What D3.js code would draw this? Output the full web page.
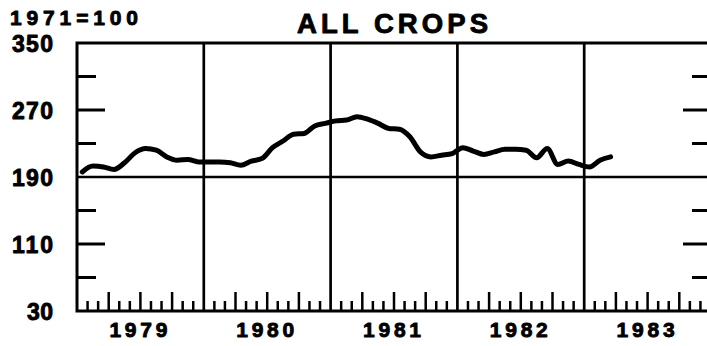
<!DOCTYPE html>
<html>
<head>
<meta charset="utf-8">
<script src="https://cdn.jsdelivr.net/npm/d3@7"></script>
<style>
  html, body { margin: 0; padding: 0; background: #fff; }
  svg { display: block; }
  text { font-family: "Liberation Sans", Arial, sans-serif; font-weight: bold; fill: #000;
         stroke: #000; stroke-width: 0.9; stroke-linejoin: round; }
</style>
</head>
<body>
<svg id="chart" width="707" height="346"></svg>
<script>
// Monthly price index for all crops, Jan 1979 – Mar 1983 (1971 = 100)
const years = ["1979", "1980", "1981", "1982", "1983"];
const cropIndex = [
  196, 203, 202, 199, 207, 219, 224, 222, 214, 210, 211, 208,   // 1979
  208, 208, 207, 204, 209, 212, 225, 233, 241, 242, 251, 254,   // 1980
  257, 258, 262, 259, 254, 248, 247, 238, 220, 214, 216, 218,   // 1981
  225, 221, 217, 220, 223, 223, 222, 213, 224, 205, 209, 205,   // 1982
  202, 210, 214                                                 // 1983
];
const yTickLabels = [350, 270, 190, 110, 30];
const yLongTicks = [270, 110];
const yShortTicks = [310, 230, 150, 70];
const titleText = "ALL CROPS";
const unitText = "1971=100";

const svg = d3.select("#chart");
const plotLeft = 77, plotRight = 711, plotTop = 43, plotBottom = 311;
const monthsShown = years.length * 12;

const x = d3.scaleLinear().domain([0, monthsShown]).range([plotLeft, plotRight]);
const y = d3.scaleLinear().domain([30, 350]).range([plotBottom, plotTop]);

const ink = "#000";
const g = svg.append("g");

// frame
g.append("path")
  .attr("d", `M${x(monthsShown)},${y(30)} L${x(0)},${y(30)} L${x(0)},${y(350)} L${x(monthsShown)},${y(350)} Z`)
  .attr("fill", "none").attr("stroke", ink).attr("stroke-width", 3);

// year dividers
const dividers = d3.range(12, monthsShown, 12);
g.selectAll("line.div").data(dividers).join("line")
  .attr("x1", d => x(d)).attr("x2", d => x(d))
  .attr("y1", y(350)).attr("y2", y(30))
  .attr("stroke", ink).attr("stroke-width", 2.7);

// reference line at 190
g.append("line")
  .attr("x1", x(0)).attr("x2", x(monthsShown))
  .attr("y1", y(190)).attr("y2", y(190))
  .attr("stroke", ink).attr("stroke-width", 2.7);

// left and right value ticks
const tickSpec = yLongTicks.map(v => ({ v, len: 28 }))
  .concat(yShortTicks.map(v => ({ v, len: 19 })));
g.selectAll("line.lt").data(tickSpec).join("line")
  .attr("x1", x(0)).attr("x2", d => x(0) + d.len)
  .attr("y1", d => y(d.v)).attr("y2", d => y(d.v))
  .attr("stroke", ink).attr("stroke-width", 3);
g.selectAll("line.rt").data(tickSpec).join("line")
  .attr("x1", x(monthsShown)).attr("x2", d => x(monthsShown) - d.len)
  .attr("y1", d => y(d.v)).attr("y2", d => y(d.v))
  .attr("stroke", ink).attr("stroke-width", 3);

// month ticks along the bottom (taller at quarters)
const monthTicks = d3.range(1, monthsShown).filter(m => m % 12 !== 0);
g.selectAll("line.mt").data(monthTicks).join("line")
  .attr("x1", d => x(d)).attr("x2", d => x(d))
  .attr("y1", y(30)).attr("y2", d => y(30) - (d % 3 === 0 ? 19 : 10))
  .attr("stroke", ink).attr("stroke-width", 2.5);

// index line, plotted at mid-month
const line = d3.line()
  .x((d, i) => x(i + 0.5))
  .y(d => y(d))
  .curve(d3.curveMonotoneX);
g.append("path")
  .datum(cropIndex)
  .attr("d", line)
  .attr("fill", "none").attr("stroke", ink)
  .attr("stroke-width", 5)
  .attr("stroke-linejoin", "round").attr("stroke-linecap", "round");

// value labels
g.selectAll("text.yl").data(yTickLabels).join("text")
  .attr("x", 53).attr("y", d => y(d) + 8.5)
  .attr("text-anchor", "end")
  .attr("font-size", 23)
  .attr("textLength", d => String(d).length === 3 ? 41 : 26)
  .attr("lengthAdjust", "spacing")
  .text(d => d);

// year labels
g.selectAll("text.yr").data(years).join("text")
  .attr("x", (d, i) => x(i * 12 + 6) - 2)
  .attr("y", 337)
  .attr("text-anchor", "middle")
  .attr("font-size", 21)
  .attr("textLength", 58)
  .attr("lengthAdjust", "spacing")
  .text(d => d);

// unit note and title
g.append("text")
  .attr("x", 10).attr("y", 25)
  .attr("font-size", 21)
  .attr("textLength", 128).attr("lengthAdjust", "spacing")
  .text(unitText);

g.append("text")
  .attr("x", 392.5).attr("y", 33)
  .attr("text-anchor", "middle")
  .attr("font-size", 27.5)
  .attr("textLength", 191).attr("lengthAdjust", "spacing")
  .text(titleText);
</script>
</body>
</html>
